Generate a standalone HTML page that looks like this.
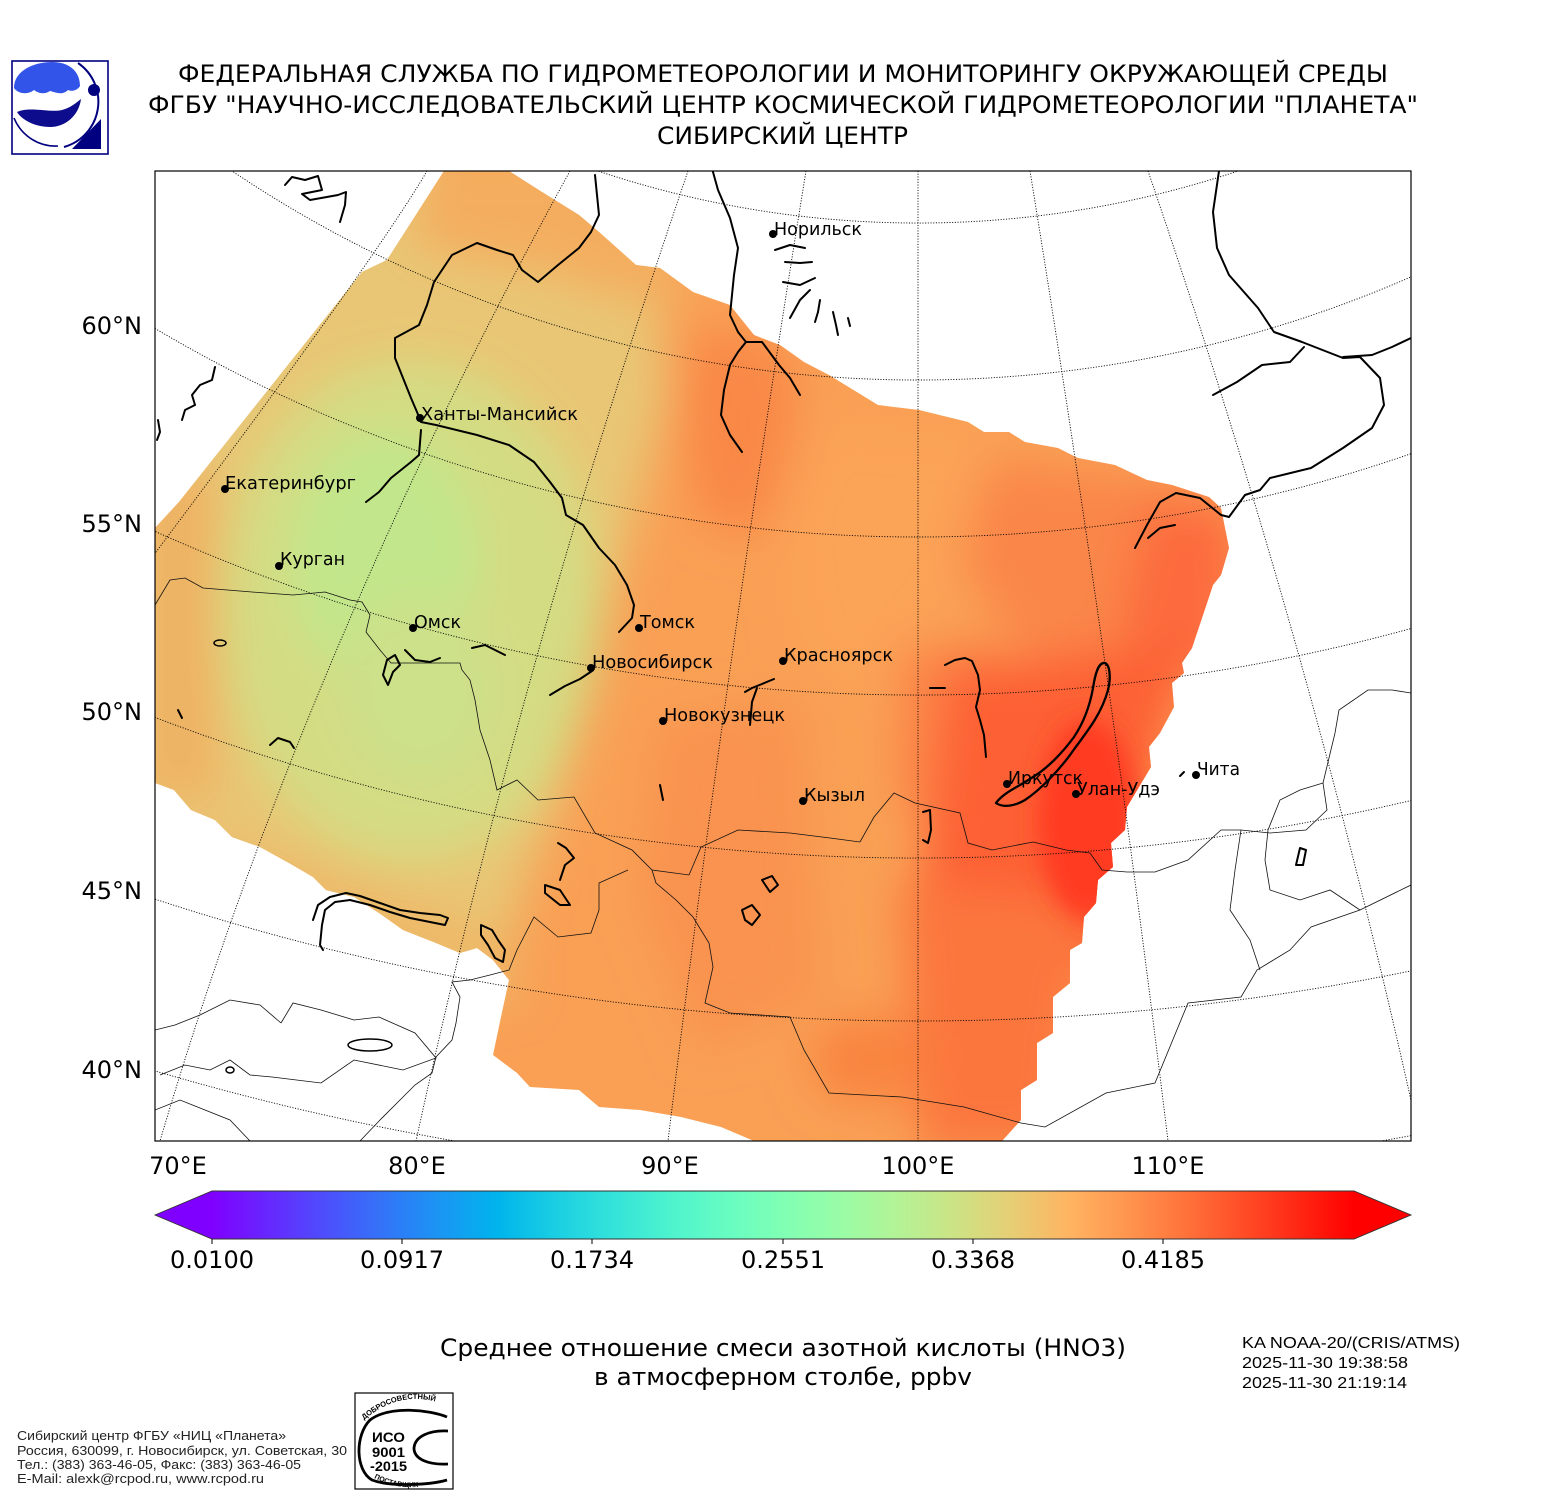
<!DOCTYPE html>
<html><head><meta charset="utf-8"><style>
html,body{margin:0;padding:0;background:#fff;}
svg{display:block;}
</style></head><body>
<svg width="1550" height="1500" viewBox="0 0 1550 1500" xmlns="http://www.w3.org/2000/svg">
<defs>
<clipPath id="frame"><rect x="155" y="171" width="1256" height="970"/></clipPath>
<clipPath id="swath"><polygon points="155,528 179,502 272,385 362,272 387,260 444,171 509,171 542,192 579,215 599,232 636,265 660,268 693,292 730,305 754,335 780,345 804,362 829,375 878,405 919,410 968,422 984,432 1009,432 1025,442 1058,448 1078,458 1115,465 1147,480 1172,485 1209,497 1221,508 1229,548 1221,575 1213,585 1204,612 1192,648 1182,663 1184,673 1172,683 1174,707 1160,733 1149,747 1151,767 1139,787 1127,807 1125,830 1111,843 1113,867 1098,880 1096,903 1084,917 1082,943 1070,950 1070,983 1053,997 1053,1033 1037,1043 1037,1080 1021,1090 1021,1120 1002,1141 754,1141 721,1127 681,1117 640,1110 599,1107 579,1090 530,1087 517,1073 493,1055 501,1017 509,980 493,960 477,948 460,953 436,943 403,930 379,913 354,897 326,890 313,877 289,863 260,847 232,837 215,820 191,810 174,790 155,783"/></clipPath>
<filter id="b" filterUnits="userSpaceOnUse" x="0" y="0" width="1550" height="1500"><feGaussianBlur stdDeviation="22"/></filter>
<filter id="b2" filterUnits="userSpaceOnUse" x="0" y="0" width="1550" height="1500"><feGaussianBlur stdDeviation="12"/></filter>
<linearGradient id="cmap" x1="212" y1="0" x2="1354" y2="0" gradientUnits="userSpaceOnUse">
<stop offset="0" stop-color="rgb(128,0,255)"/>
<stop offset="0.05" stop-color="rgb(102,40,254)"/>
<stop offset="0.10" stop-color="rgb(77,79,252)"/>
<stop offset="0.15" stop-color="rgb(51,116,248)"/>
<stop offset="0.20" stop-color="rgb(26,150,243)"/>
<stop offset="0.25" stop-color="rgb(0,180,236)"/>
<stop offset="0.30" stop-color="rgb(26,206,227)"/>
<stop offset="0.35" stop-color="rgb(51,227,218)"/>
<stop offset="0.40" stop-color="rgb(77,243,206)"/>
<stop offset="0.45" stop-color="rgb(102,252,194)"/>
<stop offset="0.50" stop-color="rgb(128,255,180)"/>
<stop offset="0.55" stop-color="rgb(153,252,166)"/>
<stop offset="0.60" stop-color="rgb(179,243,150)"/>
<stop offset="0.65" stop-color="rgb(204,227,133)"/>
<stop offset="0.70" stop-color="rgb(230,206,116)"/>
<stop offset="0.75" stop-color="rgb(255,180,98)"/>
<stop offset="0.80" stop-color="rgb(255,150,79)"/>
<stop offset="0.85" stop-color="rgb(255,116,59)"/>
<stop offset="0.90" stop-color="rgb(255,79,40)"/>
<stop offset="0.95" stop-color="rgb(255,40,20)"/>
<stop offset="1" stop-color="rgb(255,0,0)"/>
</linearGradient>
<path id="isoTop" d="M364,1420 Q405,1385 452,1408"/>
<path id="isoBot" d="M374,1478 Q405,1494 440,1482"/>
</defs>

<!-- Logo -->
<rect x="12" y="61" width="96" height="93" fill="#fff" stroke="#000080" stroke-width="1.6"/>
<path d="M14,88 C14,70 35,62 52,62 C70,62 80,72 80,86 C78,90 72,92 68,90 C62,96 55,92 50,91 C44,95 38,93 34,90 C28,95 18,94 14,88 Z" fill="#3254e8"/>
<path d="M17,112 C30,106 50,113 62,110 C70,108 76,103 81,99 C79,115 66,127 50,127 C35,127 22,120 17,112 Z" fill="#0c0c8c"/>
<path d="M78,63 A47,47 0 0 1 64,147" fill="none" stroke="#000080" stroke-width="2"/>
<path d="M14,118 A45,45 0 0 0 58,146" fill="none" stroke="#000080" stroke-width="1.6"/>
<circle cx="94" cy="90" r="6" fill="#000080"/>
<path d="M72,149 L101,119 L101,149 Z" fill="#000080"/>

<!-- Title -->
<g font-family="DejaVu Sans, Liberation Sans, sans-serif" font-size="24" fill="#000" text-anchor="start">
<text x="178" y="82" textLength="1210" lengthAdjust="spacingAndGlyphs">ФЕДЕРАЛЬНАЯ СЛУЖБА ПО ГИДРОМЕТЕОРОЛОГИИ И МОНИТОРИНГУ ОКРУЖАЮЩЕЙ СРЕДЫ</text>
<text x="148" y="113" textLength="1270" lengthAdjust="spacingAndGlyphs">ФГБУ "НАУЧНО-ИССЛЕДОВАТЕЛЬСКИЙ ЦЕНТР КОСМИЧЕСКОЙ ГИДРОМЕТЕОРОЛОГИИ "ПЛАНЕТА"</text>
<text x="657" y="144" textLength="251" lengthAdjust="spacingAndGlyphs">СИБИРСКИЙ ЦЕНТР</text>
</g>

<!-- Data field -->
<g clip-path="url(#frame)">
<g clip-path="url(#swath)">
<rect x="150" y="165" width="1270" height="990" fill="#f9a055"/>
<g filter="url(#b)">
<polygon points="100,150 640,150 660,300 665,400 640,500 610,600 585,700 560,800 520,900 500,1000 100,1000" fill="#e8c674"/>
<polygon points="430,150 640,150 700,290 620,300 540,270 470,260 410,240" fill="#f4ad5e"/>
<polygon points="140,470 215,470 225,600 215,800 140,800" fill="#efb263"/>
<polygon points="200,830 500,930 520,1000 300,930 180,860" fill="#eeb868"/>
<ellipse cx="410" cy="610" rx="190" ry="250" fill="#d4dc83"/>
<ellipse cx="385" cy="560" rx="95" ry="130" fill="#c2e68b"/>
<ellipse cx="420" cy="690" rx="80" ry="95" fill="#cde08a"/>
<polygon points="690,330 770,340 800,380 790,460 760,540 700,520 680,430" fill="#f98847"/>
<polygon points="820,420 1000,440 980,560 880,700 800,650 780,520" fill="#fba357"/>
<polygon points="990,460 1240,490 1240,660 1140,700 1020,650 960,560" fill="#fa8648"/>
<polygon points="1150,500 1240,520 1230,650 1170,700 1120,620" fill="#fc6b3d"/>
<polygon points="900,650 1000,640 1010,800 950,850 900,800" fill="#fb8347"/>
<polygon points="660,720 800,700 820,1000 700,1050 640,900" fill="#f99350"/>
<polygon points="950,670 1190,640 1150,800 1120,950 1050,1000 920,900" fill="#fd6034"/>
<polygon points="900,880 1090,900 1060,1150 920,1150" fill="#fb763e"/>
<ellipse cx="870" cy="1060" rx="60" ry="45" fill="#f9843f"/>
</g>
<g filter="url(#b2)">
<ellipse cx="1088" cy="820" rx="50" ry="100" fill="#ff3a20"/>
</g>
</g>

<!-- Gridlines -->
<g fill="none" stroke="#000" stroke-width="0.9" stroke-dasharray="1.1 1.6">
<path d="M18,-328.6 A1010,1010 0 0 0 1818,-328.6"/>
<path d="M18,-11.6 A1230,1230 0 0 0 1818,-11.6"/>
<path d="M18,237 A1500,1500 0 0 0 1818,237"/>
<path d="M18,462.8 A1860,1860 0 0 0 1818,462.8"/>
<path d="M18,659.6 A2140,2140 0 0 0 1818,659.6"/>
<path d="M18,849.7 A2450,2450 0 0 0 1818,849.7"/>
<path d="M18,1026.6 A2700,2700 0 0 0 1818,1026.6"/>
<path d="M427,171 Q375,260 150,560"/>
<path d="M570,171 Q303,656 160,1141"/>
<path d="M688,171 Q522,656 416,1141"/>
<path d="M806,171 Q727,656 668,1141"/>
<path d="M918,171 L918,1141"/>
<path d="M1030,171 Q1109,656 1168,1141"/>
<path d="M1148,171 Q1314,656 1420,1141"/>
</g>

<!-- Thin borders -->
<g fill="none" stroke="#111" stroke-width="0.8">
<polyline points="155,605 170,580 185,578 203,588 252,592 293,595 325,592 350,600 362,602 370,615 366,632 380,650 391,663 436,663 460,663 462,670 470,680 475,700 480,730 490,760 497,790 517,780 538,800 574,797 595,833 632,850 652,870 689,875 701,847 738,830 790,833 830,838 860,842 874,817 894,793 915,803 960,813 968,843 992,850 1033,842 1066,850 1090,853 1102,870 1127,872 1155,872 1188,860 1221,830 1241,830 1270,833 1306,830 1327,810 1323,783 1335,733 1339,710 1368,690 1392,690 1411,693"/>
<polyline points="652,870 656,883 676,900 693,917 709,943 713,967 705,1003 730,1013 790,1017 804,1050 829,1093 902,1097 964,1107 1021,1123 1045,1127 1106,1093 1155,1083 1188,1003 1241,997 1257,970 1290,950 1311,927 1360,910 1411,885"/>
<polyline points="628,870 599,883 599,910 591,933 558,937 534,917 517,950 509,970 490,975 470,980 452,982 460,997 456,1023 452,1040 436,1057 432,1073 415,1085 400,1100 380,1120 360,1141"/>
<polyline points="281,1023 293,1003 321,1010 354,1020 379,1017 415,1033 436,1058 403,1070 354,1060 321,1083 272,1077 250,1075 230,1060 210,1070 185,1065 160,1075"/>
<polyline points="155,1030 175,1025 200,1015 230,1000 260,1005 281,1023"/>
<polyline points="155,1110 180,1100 205,1110 230,1120 250,1141"/>
<polyline points="1323,783 1300,790 1280,800 1268,830 1265,860 1270,890 1300,900 1330,890 1360,910"/>
<polyline points="1241,830 1235,870 1230,910 1250,940 1260,970"/>
</g>

<!-- Rivers / coasts / lakes (thick) -->
<g fill="none" stroke="#000" stroke-width="2" stroke-linejoin="round" stroke-linecap="round">
<polyline points="595,175 599,215 591,232 579,248 558,265 538,282 522,270 513,255 497,250 477,243 452,255 434,282 427,305 419,325 395,338 395,358 403,378 411,398 417,412 421,422 436,425 477,435 509,445 534,462 550,482 562,498 566,515 583,525 599,548 615,565 627,585 634,605 632,618 619,632"/>
<polyline points="421,430 419,455 411,462 391,478 379,492 366,502"/>
<polyline points="713,172 718,190 730,218 738,248 734,275 730,315 738,332 746,342 738,352 730,365 724,390 721,415 730,435 742,452"/>
<polyline points="746,342 762,342 779,365 790,378 800,395"/>
<polyline points="1219,171 1213,212 1217,248 1229,275 1258,308 1274,332 1302,342 1343,358 1360,357 1380,378 1384,405 1372,428 1343,448 1311,468 1270,478 1260,490 1245,495 1229,517 1221,515 1200,498 1176,493 1160,502 1147,525 1135,548"/>
<polyline points="1343,357 1372,355 1392,347 1411,338"/>
<polyline points="1304,347 1290,362 1262,365 1237,382 1213,395"/>
<path d="M996,803 C1003,808 1015,806 1025,800 C1040,790 1060,770 1075,748 C1090,728 1102,712 1108,690 C1111,678 1110,665 1105,663 C1098,662 1095,675 1093,688 C1090,705 1084,722 1074,737 C1063,752 1048,768 1033,777 C1020,786 1004,792 996,803 Z" stroke-width="2.3"/>
<polyline points="945,665 955,660 965,658 972,661 978,675 980,690 976,707 980,720 984,735 986,757"/>
<polyline points="930,688 945,688"/>
<polyline points="745,692 752,688 762,684 774,679"/>
<polyline points="757,688 752,702 750,725"/>
<polyline points="550,695 565,686 580,679 592,671"/>
<polyline points="285,185 292,177 305,180 318,176 322,190 302,194 310,200 338,195 346,192 345,205 340,222"/>
<polyline points="215,367 212,380 200,385 192,395 195,405 185,410 182,420"/>
<polyline points="158,420 160,432 157,440"/>
<polyline points="775,250 790,245 805,248"/>
<polyline points="785,262 800,263 812,262"/>
<polyline points="783,282 800,285 815,278"/>
<polyline points="810,290 800,300 790,318"/>
<polyline points="820,300 818,312 815,322"/>
<polyline points="833,312 836,325 838,335"/>
<polyline points="848,318 850,326"/>
<polyline points="313,920 318,905 330,897 346,893 360,896 380,903 400,910 420,913 440,915 448,918 445,925 430,922 410,918 390,912 370,905 350,900 335,902 325,910 322,925 320,945 323,950"/>
<polyline points="558,843 566,848 574,858 565,865 560,880"/>
<polygon points="545,885 560,890 570,905 560,905 545,893"/>
<polygon points="481,925 492,930 498,940 505,950 503,962 495,958 488,945 481,935"/>
<polyline points="923,812 930,810 931,830 928,843 923,840"/>
<polyline points="660,785 662,795 663,800"/>
<polygon points="742,910 752,905 760,915 752,925 745,920"/>
<polygon points="762,880 772,876 778,885 770,892"/>
<polygon points="1300,848 1306,850 1303,865 1296,865"/>
<polygon points="387,660 395,655 400,665 393,672 388,685 383,675"/>
<polyline points="405,650 415,660 430,662 440,658"/>
<polyline points="472,648 485,645 495,650 505,655"/>
<polyline points="270,745 278,738 290,742 294,748"/>
<polyline points="178,710 182,718"/>
<polyline points="1180,776 1184,772"/>
<polyline points="1148,538 1160,528 1175,525"/>
</g>
<g fill="none" stroke="#000" stroke-width="1.5">
<ellipse cx="370" cy="1045" rx="22" ry="6"/>
<ellipse cx="220" cy="643" rx="6" ry="3"/>
<ellipse cx="230" cy="1070" rx="4" ry="3"/>
</g>
</g>

<!-- Map frame -->
<rect x="155" y="171" width="1256" height="970" fill="none" stroke="#000" stroke-width="1.2"/>

<!-- Cities -->
<g fill="#000">
<circle cx="773" cy="234" r="4"/>
<circle cx="420" cy="418" r="4"/>
<circle cx="225" cy="489" r="4"/>
<circle cx="279" cy="566" r="4"/>
<circle cx="413" cy="628" r="4"/>
<circle cx="639" cy="628" r="4"/>
<circle cx="591" cy="668" r="4"/>
<circle cx="783" cy="661" r="4"/>
<circle cx="663" cy="721" r="4"/>
<circle cx="803" cy="801" r="4"/>
<circle cx="1007" cy="784" r="4"/>
<circle cx="1076" cy="794" r="4"/>
<circle cx="1196" cy="775" r="4"/>
</g>
<g font-family="DejaVu Sans, Liberation Sans, sans-serif" font-size="17.5" fill="#000">
<text x="774" y="235" textLength="88" lengthAdjust="spacingAndGlyphs">Норильск</text>
<text x="421" y="420" textLength="157" lengthAdjust="spacingAndGlyphs">Ханты-Мансийск</text>
<text x="225" y="489" textLength="131" lengthAdjust="spacingAndGlyphs">Екатеринбург</text>
<text x="280" y="565" textLength="65" lengthAdjust="spacingAndGlyphs">Курган</text>
<text x="414" y="628" textLength="47" lengthAdjust="spacingAndGlyphs">Омск</text>
<text x="640" y="628" textLength="55" lengthAdjust="spacingAndGlyphs">Томск</text>
<text x="592" y="668" textLength="121" lengthAdjust="spacingAndGlyphs">Новосибирск</text>
<text x="784" y="661" textLength="109" lengthAdjust="spacingAndGlyphs">Красноярск</text>
<text x="664" y="721" textLength="121" lengthAdjust="spacingAndGlyphs">Новокузнецк</text>
<text x="804" y="801" textLength="61" lengthAdjust="spacingAndGlyphs">Кызыл</text>
<text x="1008" y="784" textLength="75" lengthAdjust="spacingAndGlyphs">Иркутск</text>
<text x="1077" y="795" textLength="83" lengthAdjust="spacingAndGlyphs">Улан-Удэ</text>
<text x="1197" y="775" textLength="43" lengthAdjust="spacingAndGlyphs">Чита</text>
</g>

<!-- Axis labels -->
<g font-family="DejaVu Sans, Liberation Sans, sans-serif" font-size="24" fill="#000">
<text x="142" y="334" text-anchor="end">60°N</text>
<text x="142" y="532" text-anchor="end">55°N</text>
<text x="142" y="720" text-anchor="end">50°N</text>
<text x="142" y="899" text-anchor="end">45°N</text>
<text x="142" y="1078" text-anchor="end">40°N</text>
<text x="178" y="1174" text-anchor="middle">70°E</text>
<text x="417" y="1174" text-anchor="middle">80°E</text>
<text x="670" y="1174" text-anchor="middle">90°E</text>
<text x="918" y="1174" text-anchor="middle">100°E</text>
<text x="1168" y="1174" text-anchor="middle">110°E</text>
</g>

<!-- Colorbar -->
<polygon points="155,1215 212,1191 212,1239" fill="#8000ff"/>
<polygon points="1354,1191 1411,1215 1354,1239" fill="#ff0000"/>
<rect x="212" y="1191" width="1142" height="48" fill="url(#cmap)"/>
<polygon points="155,1215 212,1191 1354,1191 1411,1215 1354,1239 212,1239" fill="none" stroke="#333" stroke-width="0.9"/>
<g stroke="#000" stroke-width="1">
<line x1="212" y1="1239" x2="212" y2="1244"/>
<line x1="402" y1="1239" x2="402" y2="1244"/>
<line x1="592" y1="1239" x2="592" y2="1244"/>
<line x1="783" y1="1239" x2="783" y2="1244"/>
<line x1="973" y1="1239" x2="973" y2="1244"/>
<line x1="1163" y1="1239" x2="1163" y2="1244"/>
</g>
<g font-family="DejaVu Sans, Liberation Sans, sans-serif" font-size="24" fill="#000" text-anchor="middle">
<text x="212" y="1268">0.0100</text>
<text x="402" y="1268">0.0917</text>
<text x="592" y="1268">0.1734</text>
<text x="783" y="1268">0.2551</text>
<text x="973" y="1268">0.3368</text>
<text x="1163" y="1268">0.4185</text>
</g>

<!-- Bottom title -->
<g font-family="DejaVu Sans, Liberation Sans, sans-serif" font-size="24" fill="#000">
<text x="440" y="1356" textLength="686" lengthAdjust="spacingAndGlyphs">Среднее отношение смеси азотной кислоты (HNO3)</text>
<text x="594" y="1385" textLength="378" lengthAdjust="spacingAndGlyphs">в атмосферном столбе, ppbv</text>
</g>

<!-- Right info -->
<g font-family="Liberation Sans, Arial, sans-serif" font-size="16" fill="#000">
<text x="1242" y="1348" textLength="218" lengthAdjust="spacingAndGlyphs">KA NOAA-20/(CRIS/ATMS)</text>
<text x="1242" y="1368" textLength="166" lengthAdjust="spacingAndGlyphs">2025-11-30 19:38:58</text>
<text x="1242" y="1388" textLength="165" lengthAdjust="spacingAndGlyphs">2025-11-30 21:19:14</text>
</g>

<!-- Bottom-left info -->
<g font-family="Liberation Sans, Arial, sans-serif" font-size="12.5" fill="#222">
<text x="17" y="1440" textLength="269" lengthAdjust="spacingAndGlyphs">Сибирский центр ФГБУ «НИЦ «Планета»</text>
<text x="17" y="1455" textLength="330" lengthAdjust="spacingAndGlyphs">Россия, 630099, г. Новосибирск, ул. Советская, 30</text>
<text x="17" y="1469" textLength="284" lengthAdjust="spacingAndGlyphs">Тел.: (383) 363-46-05, Факс: (383) 363-46-05</text>
<text x="17" y="1483" textLength="247" lengthAdjust="spacingAndGlyphs">E-Mail: alexk@rcpod.ru, www.rcpod.ru</text>
</g>

<!-- ISO logo -->
<rect x="355" y="1393" width="98" height="96" fill="#fff" stroke="#000" stroke-width="1.2"/>
<g fill="none" stroke="#000" stroke-width="2.8">
<path d="M447,1417 C430,1410 390,1405 370,1420 C355,1435 355,1470 372,1480 C390,1487 430,1485 447,1480"/>
<path d="M448,1431 C430,1430 415,1436 414,1448 C414,1460 430,1465 448,1464"/>
</g>
<g font-family="Liberation Sans, Arial, sans-serif" font-weight="bold" fill="#000">
<text x="372" y="1442" font-size="14" textLength="33" lengthAdjust="spacingAndGlyphs">ИСО</text>
<text x="372" y="1457" font-size="14" textLength="33" lengthAdjust="spacingAndGlyphs">9001</text>
<text x="370" y="1471" font-size="14" textLength="37" lengthAdjust="spacingAndGlyphs">-2015</text>
<text font-size="7.5"><textPath href="#isoTop">ДОБРОСОВЕСТНЫЙ</textPath></text>
<text font-size="7"><textPath href="#isoBot">ПОСТАВЩИК</textPath></text>
</g>
</svg>
</body></html>
